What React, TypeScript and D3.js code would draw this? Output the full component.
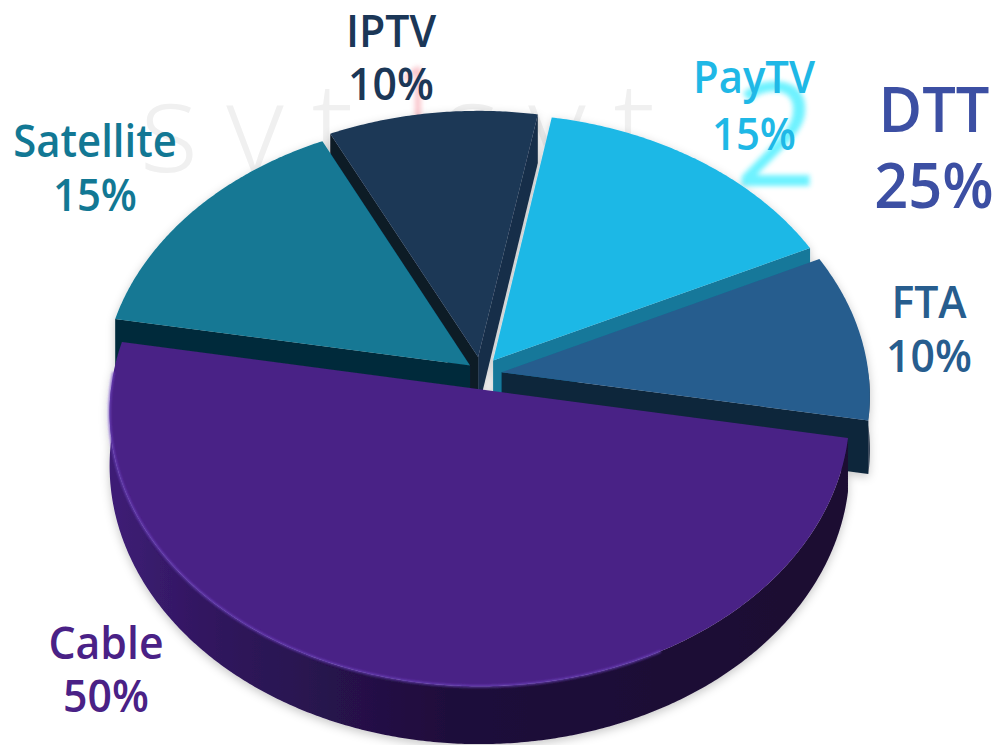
import React from 'react';
import * as d3 from 'd3';

// ---- data ----
const categories = ['Cable', 'Satellite', 'IPTV', 'PayTV', 'FTA'];
const shares = [50, 15, 10, 15, 10];
const pctLabels = ['50%', '15%', '10%', '15%', '10%'];
const groupName = 'DTT';
const groupMembers = ['PayTV', 'FTA'];

// ---- styles / layout ----
const W = 1000, H = 745;
const K = 0.084, A = 368.7, B = 272, CX = 479.6, CY = 389.3, T = 53;
const ROT = (10.17 * Math.PI) / 180;

const topColor: Record<string, string> = {
  Cable: '#4a2186', Satellite: '#127894', IPTV: '#1b3757', PayTV: '#1fb8e6', FTA: '#265d8e',
};
const startFaceColor: Record<string, string> = {
  Cable: '#2a1250', Satellite: '#052c3b', IPTV: '#0b1a28', PayTV: '#13789a', FTA: '#10263b',
};
const endFaceColor: Record<string, string> = {
  Cable: '#2a1250', Satellite: '#052c3b', IPTV: '#152e48', PayTV: '#13789a', FTA: '#10263b',
};
const wallColor: Record<string, string> = {
  Cable: 'url(#cableWall)', Satellite: '#073445', IPTV: '#0e2136', PayTV: '#137a9a', FTA: '#0f2338',
};
const explode: Record<string, [number, number]> = {
  Cable: [0, 0], Satellite: [-0.026, -0.088], IPTV: [-0.004, -0.12], PayTV: [0.037, -0.107], FTA: [0.06, -0.063],
};
const labelPos: Record<string, { x: number; y1: number; y2: number; size: number; color: string }> = {
  IPTV: { x: 391, y1: 47, y2: 100, size: 46, color: '#1b3757' },
  Satellite: { x: 95, y1: 157, y2: 211, size: 45, color: '#127894' },
  PayTV: { x: 754, y1: 93, y2: 150, size: 45, color: '#1fb8e6' },
  FTA: { x: 929, y1: 318, y2: 372, size: 46, color: '#275d8e' },
  Cable: { x: 106, y1: 659, y2: 712, size: 46, color: '#4a2186' },
  DTT: { x: 934, y1: 132, y2: 208, size: 64, color: '#3c4fa3' },
};

function P(u: number, v: number, down: number): [number, number] {
  const d = 1 - K * v;
  return [CX + (A * u) / d, CY + (B * v) / d + (down * T) / d];
}

const line = d3.line<[number, number]>().curve(d3.curveLinearClosed);
const openLine = d3.line<[number, number]>();

function arcPts(a: number, b: number, off: [number, number], down: number): [number, number][] {
  const n = Math.max(2, Math.ceil(((b - a) * 180) / Math.PI / 0.5));
  const pts: [number, number][] = [];
  for (let i = 0; i <= n; i++) {
    const t = a + ((b - a) * i) / n;
    pts.push(P(Math.cos(t) + off[0], Math.sin(t) + off[1], down));
  }
  return pts;
}

export default function App() {
  const pie = d3.pie<number>().sort(null).startAngle(0).endAngle(2 * Math.PI);
  const arcs = pie(shares);

  const slices = arcs.map((arc, i) => {
    const name = categories[i];
    const a = ROT + arc.startAngle;
    const b = ROT + arc.endAngle;
    const off = explode[name];
    const mid = (a + b) / 2;
    const depth = off[1] + 0.5 * Math.sin(mid);
    return { name, a, b, off, depth, i };
  });
  slices.sort((s1, s2) => s1.depth - s2.depth);

  const pieces: React.ReactNode[] = [];
  slices.forEach((s) => {
    const { name, a, b, off } = s;
    const apexTop = P(off[0], off[1], 0);
    const apexBot = P(off[0], off[1], 1);
    if (Math.cos(a) < 0) {
      const rt = P(Math.cos(a) + off[0], Math.sin(a) + off[1], 0);
      const rb = P(Math.cos(a) + off[0], Math.sin(a) + off[1], 1);
      pieces.push(<path key={name + 's'} d={line([apexTop, rt, rb, apexBot]) || ''} fill={startFaceColor[name]} />);
    }
    if (Math.cos(b) > 0) {
      const rt = P(Math.cos(b) + off[0], Math.sin(b) + off[1], 0);
      const rb = P(Math.cos(b) + off[0], Math.sin(b) + off[1], 1);
      pieces.push(<path key={name + 'e'} d={line([apexTop, rt, rb, apexBot]) || ''} fill={endFaceColor[name]} />);
    }
    [[0, Math.PI], [2 * Math.PI, 3 * Math.PI]].forEach(([lo, hi], k) => {
      const wa = Math.max(a, lo), wb = Math.min(b, hi);
      if (wb > wa) {
        const top = arcPts(wa, wb, off, 0);
        const bot = arcPts(wa, wb, off, 1).reverse();
        pieces.push(<path key={name + 'w' + k} d={line([...top, ...bot]) || ''} fill={wallColor[name]} />);
      }
    });
    const rim = arcPts(a, b, off, 0);
    pieces.push(<path key={name + 't'} d={line([apexTop, ...rim]) || ''} fill={topColor[name]} />);
    if (name === 'Cable') {
      const hl = arcPts(Math.PI * 0.35, Math.PI * 1.02, off, 0);
      pieces.push(
        <path key="hl" d={openLine(hl) || ''} fill="none" stroke="#6e46c0" strokeWidth={2.5} opacity={0.75} filter="url(#soft)" />
      );
    }
  });

  const texts: React.ReactNode[] = [];
  const addLabel = (name: string, pct: string) => {
    const p = labelPos[name];
    texts.push(
      <g key={name} fill={p.color} fontSize={p.size} fontWeight={600} textAnchor="middle" fontFamily="'Open Sans', sans-serif">
        <text transform={`translate(${p.x},${p.y1}) scale(0.93,1)`}>{name}</text>
        <text transform={`translate(${p.x},${p.y2}) scale(0.93,1)`}>{pct}</text>
      </g>
    );
  };
  categories.forEach((c, i) => addLabel(c, pctLabels[i]));
  const groupTotal = groupMembers.reduce((acc, m) => acc + shares[categories.indexOf(m)], 0);
  addLabel(groupName, `${groupTotal}%`);

  return (
    <svg width={W} height={H} style={{ position: 'fixed', left: 0, top: 0, background: '#fff' }}>
      <defs>
        <linearGradient id="cableWall" x1="110" x2="860" y1="0" y2="0" gradientUnits="userSpaceOnUse">
          <stop offset="0" stopColor="#3e1d76" />
          <stop offset="0.15" stopColor="#2f165c" />
          <stop offset="0.45" stopColor="#1f0e3b" />
          <stop offset="1" stopColor="#1a0b31" />
        </linearGradient>
        <filter id="soft" x="-5%" y="-5%" width="110%" height="110%">
          <feGaussianBlur stdDeviation="1" />
        </filter>
        <filter id="glow" x="-30%" y="-30%" width="160%" height="160%">
          <feGaussianBlur stdDeviation="2.5" />
        </filter>
        <filter id="shadow" x="-10%" y="-10%" width="120%" height="120%">
          <feDropShadow dx="0" dy="3" stdDeviation="5" floodColor="#000" floodOpacity="0.22" />
        </filter>
      </defs>
      <rect width={W} height={H} fill="#fff" />
      <text x={140} y={172} fontSize={125} fontWeight={300} fill="#f0f0f0" fontFamily="'Open Sans', sans-serif" letterSpacing={28}>
        svt svt
      </text>
      <text x={416} y={118} fontSize={72} fill="#f59aa6" opacity={0.6} textAnchor="middle" filter="url(#glow)" fontFamily="'Open Sans', sans-serif">1</text>
      <text x={776} y={186} fontSize={145} fill="#55f0ff" opacity={0.85} textAnchor="middle" filter="url(#glow)" fontFamily="'Open Sans', sans-serif">2</text>
      <g filter="url(#shadow)">{pieces}</g>
      {texts}
    </svg>
  );
}
